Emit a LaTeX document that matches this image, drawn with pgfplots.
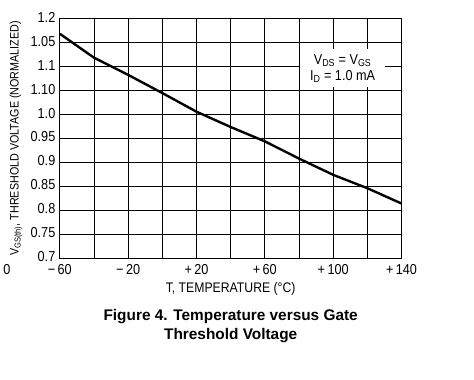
\documentclass[border=0pt]{standalone}
\usepackage{fontspec}
\setmainfont[FakeStretch=0.88]{Liberation Sans}
\newfontfamily\capfont{Liberation Sans}
\usepackage{pgfplots}
\pgfplotsset{compat=1.18}
\begin{document}
\begin{tikzpicture}
\begin{axis}[
  scale only axis,
  width=343bp, height=240bp,
  xmin=-60, xmax=140, ymin=0.7, ymax=1.2,
  xtick={-60,-20,20,60,100,140},
  xticklabels={−\,60,−\,20,+\,20,+\,60,+\,100,+\,140},
  minor xtick={-40,0,40,80,120},
  ytick={0.7,0.75,0.8,0.85,0.9,0.95,1.0,1.05,1.1,1.15,1.2},
  yticklabels={0.7,0.75,0.8,0.85,0.9,0.95,1.0,1.10,1.1,1.05,1.2},
  grid=both,
  major grid style={black, line width=0.9bp},
  minor grid style={black, line width=0.9bp},
  axis line style={black, line width=1bp},
  major tick length=0pt, minor tick length=0pt,
  tick label style={font=\fontsize{14.5}{15}\selectfont},
  xticklabel style={anchor=north, yshift=-3bp},
  yticklabel style={anchor=east, xshift=-1bp, yshift=1.5bp},
  xlabel={T, TEMPERATURE (°C)},
  xlabel style={at={(axis description cs:0.5,-0.13)}, anchor=center, font=\fontsize{14}{15}\selectfont},
  ylabel={V\textsubscript{GS(th)}, THRESHOLD VOLTAGE (NORMALIZED)},
  ylabel style={at={(axis description cs:-0.128,0.5)}, anchor=center, font=\fontsize{12.3}{14}\selectfont},
  clip=false,
]
\addplot[black, line width=2.4bp] coordinates {
(-60,1.169) (-40,1.119) (-20,1.083) (0,1.045) (20,1.006) (40,0.974)
(60,0.944) (80,0.908) (100,0.874) (120,0.846) (140,0.814)
};
\node[fill=white, inner sep=0pt, minimum width=86bp, minimum height=38bp,
      align=center, font=\fontsize{14.5}{16}\selectfont]
  at (axis cs:105.5,1.097) {V\textsubscript{DS} = V\textsubscript{GS}\\I\textsubscript{D} = 1.0 mA};
\node[font=\fontsize{14.5}{15}\selectfont] at (axis description cs:-0.155,-0.046) {0};
\node[align=center, font=\capfont\bfseries\fontsize{15.5}{19}\selectfont]
  at (axis description cs:0.5,-0.283) {Figure 4. Temperature versus Gate\\Threshold Voltage};
\coordinate (o) at (rel axis cs:0,0);
\end{axis}
\path[use as bounding box] (o) ++(-58.3bp,-122bp) rectangle ++(474bp,381bp);
\end{tikzpicture}
\end{document}
